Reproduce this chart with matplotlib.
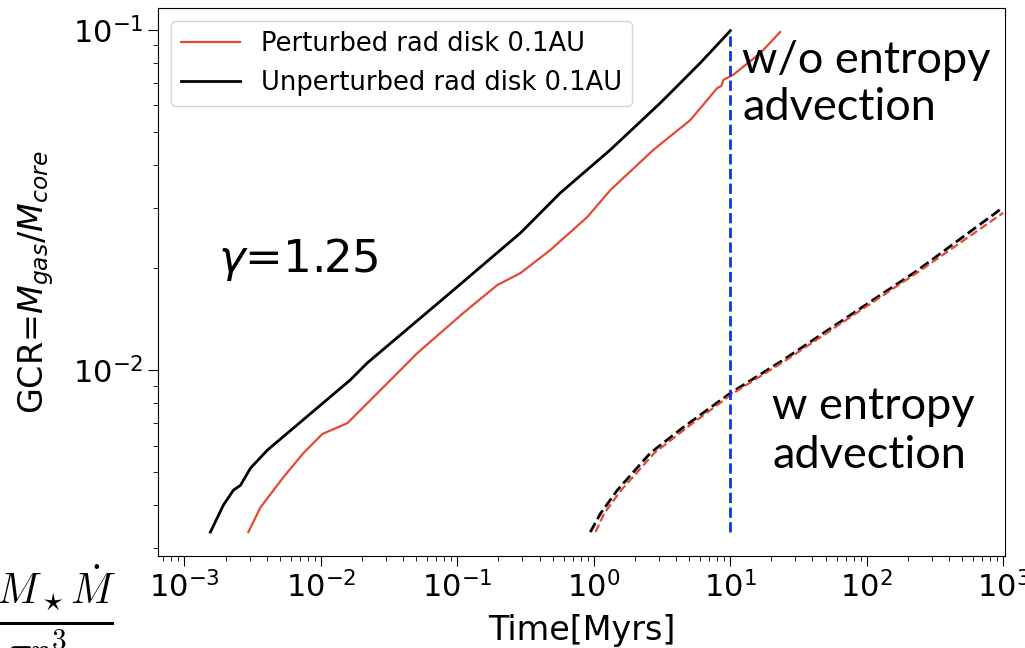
import numpy as np
import matplotlib
matplotlib.use("Agg")
import matplotlib.pyplot as plt

# GCR curves (time in Myr)
t_unpert = [1.55e-3, 1.93e-3, 2.29e-3, 2.57e-3, 3.05e-3, 4.06e-3, 7.08e-3, 0.0164, 0.0219,
            0.0845, 0.290, 0.569, 1.32, 3.07, 6.03, 9.67, 10.0]
gcr_unpert = [0.00334, 0.00401, 0.00444, 0.00458, 0.00515, 0.00582, 0.00703, 0.00935, 0.0105,
              0.0166, 0.0253, 0.0332, 0.0444, 0.0610, 0.0800, 0.0980, 0.0995]

t_pert = [2.94e-3, 3.61e-3, 5.31e-3, 7.44e-3, 0.01026, 0.01563, 0.0273, 0.0509, 0.1107, 0.196,
          0.290, 0.480, 0.895, 1.32, 2.73, 5.09, 8.03, 8.59, 8.89, 10.5, 16.6, 23.2]
gcr_pert = [0.00334, 0.00395, 0.00484, 0.00570, 0.00649, 0.00698, 0.00873, 0.01122, 0.01472,
            0.01778, 0.01928, 0.02254, 0.02818, 0.0338, 0.0444, 0.0543, 0.0675, 0.0684, 0.0713,
            0.0738, 0.0855, 0.0986]

t_unpert_adv = [0.942, 1.12, 1.49, 2.59, 4.53, 10.0, 24.4, 75.7, 234.0, 1000.0]
gcr_unpert_adv = [0.00334, 0.00379, 0.00444, 0.00570, 0.00679, 0.00855, 0.0107, 0.0145,
                  0.0196, 0.0301]

t_pert_adv = [1.03, 1.19, 1.59, 2.77, 4.84, 10.5, 25.7, 79.6, 246.0, 1000.0]
gcr_pert_adv = [0.00334, 0.00379, 0.00444, 0.00570, 0.00679, 0.00855, 0.0107, 0.0145,
                0.0196, 0.0290]

t_cut = 10.0
gcr_cut = [0.00334, 0.0986]

red = '#e24a33'

fig = plt.figure(figsize=(10.25, 6.48), dpi=100)
ax = fig.add_axes([158/1025, 92/648, 847/1025, 548/648])

ax.plot(t_pert, gcr_pert, color=red, lw=1.6, label='Perturbed rad disk 0.1AU')
ax.plot(t_unpert, gcr_unpert, color='k', lw=2, label='Unperturbed rad disk 0.1AU')
ax.plot(t_unpert_adv, gcr_unpert_adv, '--', color='k', lw=2)
ax.plot(t_pert_adv, gcr_pert_adv, '--', color=red, lw=1.6)
ax.plot([t_cut, t_cut], gcr_cut, '--', color='#1133ee', lw=2)

ax.set_xscale('log')
ax.set_yscale('log')
ax.set_xlim(6.4e-4, 1.03e3)
ax.set_ylim(0.00284, 0.116)

ax.tick_params(which='major', labelsize=22, length=7)
ax.tick_params(which='minor', length=3.5)
ax.set_xlabel('Time[Myrs]', fontsize=24, labelpad=8)
ax.set_ylabel(r'GCR=$M_{gas}/M_{core}$', fontsize=24, labelpad=12)

ax.legend(loc='upper left', fontsize=18.5, handlelength=2.3, bbox_to_anchor=(0.0, 1.0),
          borderaxespad=0.5)

ax.text(0.071, 0.518, r'$\gamma$=1.25', transform=ax.transAxes, fontsize=32.5, va='baseline')
ax.text(0.690, 0.942, 'w/o entropy\nadvection', transform=ax.transAxes, fontsize=32.5,
        family='Lato', va='top', linespacing=1.2)
ax.text(0.725, 0.310, 'w entropy\nadvection', transform=ax.transAxes, fontsize=32.5,
        family='Lato', va='top', linespacing=1.25)

# leftover piece of a formula from the slide
plt.rcParams['mathtext.fontset'] = 'cm'
fig.text(117/1025, 0.022, r'$\frac{GM_\star\dot{M}}{\pi r^3}$', fontsize=43,
         ha='right', va='baseline')

fig.savefig('out.png', dpi=100)
